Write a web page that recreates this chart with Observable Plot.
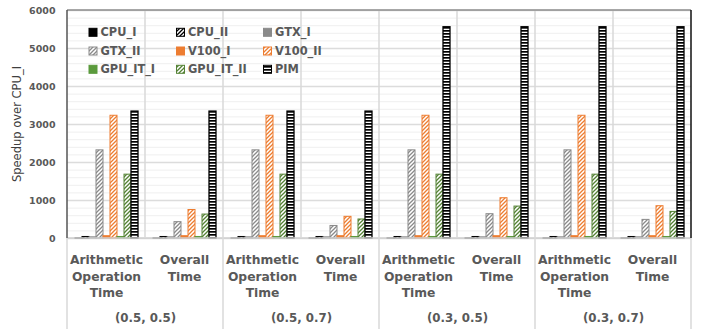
<!DOCTYPE html>
<html><head><meta charset="utf-8">
<script src="https://cdn.jsdelivr.net/npm/d3@7"></script>
<script src="https://cdn.jsdelivr.net/npm/@observablehq/plot@0.6"></script>
<style>
html,body{margin:0;padding:0;background:#fff;}
#chart svg{display:block;overflow:visible;}
</style>
</head><body><div id="chart"></div>
<script>
// ---- data ----
const series = ["CPU_I","CPU_II","GTX_I","GTX_II","V100_I","V100_II","GPU_IT_I","GPU_IT_II","PIM"];
const groups = ["(0.5, 0.5)","(0.5, 0.7)","(0.3, 0.5)","(0.3, 0.7)"];
const metrics = ["Arithmetic\nOperation\nTime","Overall\nTime"];
const yTicks = [0,1000,2000,3000,4000,5000,6000];
// values per subgroup: [g1-arith, g1-overall, g2-arith, g2-overall, g3-arith, g3-overall, g4-arith, g4-overall]
const CPU_I     = [1,1,1,1,1,1,1,1];
const CPU_II    = [40,40,40,40,40,40,40,40];
const GTX_I     = [30,30,30,30,30,30,30,30];
const GTX_II    = [2320,430,2320,330,2320,640,2320,490];
const V100_I    = [60,60,60,60,60,60,60,60];
const V100_II   = [3230,750,3230,570,3230,1060,3230,850];
const GPU_IT_I  = [40,40,40,40,40,40,40,40];
const GPU_IT_II = [1680,630,1680,500,1680,840,1680,700];
const PIM       = [3340,3340,3340,3340,5560,5560,5560,5560];
const seriesValues = {CPU_I,CPU_II,GTX_I,GTX_II,V100_I,V100_II,GPU_IT_I,GPU_IT_II,PIM};

// ---- styles ----
const GRAY = "#8a8a8a", ORANGE = "#ED7D31", GREEN = "#5b9a3c", DGREEN = "#548235";
const style = {
  CPU_I:     {fill:"#000", stroke:"#000", sw:1},
  CPU_II:    {fill:"url(#hatch-black)", stroke:"#000", sw:1},
  GTX_I:     {fill:GRAY, stroke:GRAY, sw:1},
  GTX_II:    {fill:"url(#hatch-gray)", stroke:GRAY, sw:1},
  V100_I:    {fill:ORANGE, stroke:ORANGE, sw:1},
  V100_II:   {fill:"url(#hatch-orange)", stroke:ORANGE, sw:1},
  GPU_IT_I:  {fill:GREEN, stroke:GREEN, sw:1},
  GPU_IT_II: {fill:"url(#hatch-green)", stroke:DGREEN, sw:1},
  PIM:       {fill:"url(#stripe-black)", stroke:"#000", sw:1.3}
};
const FONT = "DejaVu Sans";
const TXT = "#595959";

const keys = groups.flatMap(g => metrics.map(m => g + "|" + m));
const data = [];
for (const s of series) keys.forEach((k, j) => data.push({sub:k, series:s, value:seriesValues[s][j]}));
const metricLabels = keys.map((k, j) => ({sub:k, label: metrics[j % 2]}));
const groupLabels = groups.map((g, i) => ({sub: keys[2*i], label: g}));
const minorTicks = d3.range(200, 6000, 200).filter(v => v % 1000 !== 0);

const svg = Plot.plot({
  width: 705, height: 329,
  marginLeft: 66, marginRight: 13, marginTop: 10, marginBottom: 91,
  style: {fontFamily: FONT, background: "#fff"},
  fx: {domain: keys, padding: 0, axis: null},
  x: {domain: series, paddingInner: 0.05, paddingOuter: 0.92, axis: null},
  y: {domain: [0, 6000], axis: null},
  color: {type: "identity"},
  marks: [
    Plot.ruleY(minorTicks, {stroke: "#efefef", strokeWidth: 1}),
    Plot.ruleY(yTicks, {stroke: "#dcdcdc", strokeWidth: 1.3}),
    Plot.axisY(yTicks, {tickSize: 0, tickPadding: 12, tickFormat: d => String(d), fontWeight: "bold", fontSize: 9.5, fill: TXT, label: null}),
    Plot.barY(data, {fx: "sub", x: "series", y: "value",
      fill: d => style[d.series].fill, stroke: d => style[d.series].stroke,
      strokeWidth: d => style[d.series].sw}),
    Plot.text(metricLabels, {fx: "sub", text: "label", frameAnchor: "bottom", textAnchor: "middle",
      lineAnchor: "top", dy: 13, lineHeight: 1.38, fontWeight: "bold", fontSize: 12.3, fill: TXT}),
    Plot.text(groupLabels, {fx: "sub", text: "label", frameAnchor: "bottom-right", textAnchor: "middle",
      lineAnchor: "top", dy: 75, fontWeight: "bold", fontSize: 11.8, fill: TXT})
  ]
});

const S = d3.select(svg);
// patterns
const defs = S.insert("defs", ":first-child");
function hatch(id, color) {
  const p = defs.append("pattern").attr("id", id).attr("patternUnits", "userSpaceOnUse")
    .attr("width", 4).attr("height", 4);
  p.append("rect").attr("width", 4).attr("height", 4).attr("fill", "#fff");
  p.append("path").attr("d", "M-1,1 l2,-2 M0,4 l4,-4 M3,5 l2,-2")
    .attr("stroke", color).attr("stroke-width", 1.3).attr("fill", "none");
}
hatch("hatch-black", "#000");
hatch("hatch-gray", GRAY);
hatch("hatch-orange", ORANGE);
hatch("hatch-green", DGREEN);
{
  const p = defs.append("pattern").attr("id", "stripe-black").attr("patternUnits", "userSpaceOnUse")
    .attr("width", 4).attr("height", 3);
  p.append("rect").attr("width", 4).attr("height", 3).attr("fill", "#fff");
  p.append("rect").attr("width", 4).attr("height", 1.7).attr("fill", "#000");
}

// dividers and borders
const fx = svg.scale("fx"), y = svg.scale("y");
const yTop = y.apply(6000), yBot = y.apply(0), H = 329;
const lines = S.append("g");
const line = (x1, y1, x2, y2, c, w) => lines.append("line").attr("x1", x1).attr("y1", y1)
  .attr("x2", x2).attr("y2", y2).attr("stroke", c).attr("stroke-width", w);
const xl = fx.apply(keys[0]), xr = fx.apply(keys[keys.length - 1]) + fx.bandwidth;
line(xl, yBot, xr, yBot, "#cfcfcf", 1.3);
keys.forEach((k, j) => {
  if (j === 0) return;
  const x = fx.apply(k);
  line(x, yTop, x, j % 2 === 0 ? H : yBot, "#d9d9d9", 1.5);
});
line(xl, yBot, xl, H, "#d9d9d9", 1.5);
line(xr, yBot, xr, H, "#d9d9d9", 1.5);
line(xl, yTop, xr, yTop, "#8c8c8c", 1.5);
line(xl, yTop, xl, yBot, "#555", 1.5);
line(xr, yTop, xr, yBot, "#111", 1.5);

// y title
S.append("text").attr("transform", `translate(17,${(yTop + yBot) / 2}) rotate(-90)`)
  .attr("text-anchor", "middle").attr("dy", "0.35em")
  .attr("font-family", FONT).attr("font-size", 11.5).attr("fill", "#3f3f3f")
  .text("Speedup over CPU_I");

// legend (inside plot area, 3 columns)
const lg = S.append("g").attr("font-family", FONT).attr("font-size", 11.4)
  .attr("font-weight", "bold").attr("fill", TXT).attr("text-anchor", "start");
const colX = [89, 176.5, 263.5], rowY = [32.3, 51, 69.3];
series.forEach((s, i) => {
  const cx = colX[i % 3], cy = rowY[Math.floor(i / 3)];
  lg.append("rect").attr("x", cx).attr("y", cy - 4).attr("width", 8).attr("height", 8)
    .attr("fill", style[s].fill).attr("stroke", style[s].stroke).attr("stroke-width", 1);
  lg.append("text").attr("x", cx + 11.5).attr("y", cy).attr("dy", "0.36em")
    .attr("text-anchor", "start").text(s);
});

document.getElementById("chart").appendChild(svg);
</script>
</body></html>
